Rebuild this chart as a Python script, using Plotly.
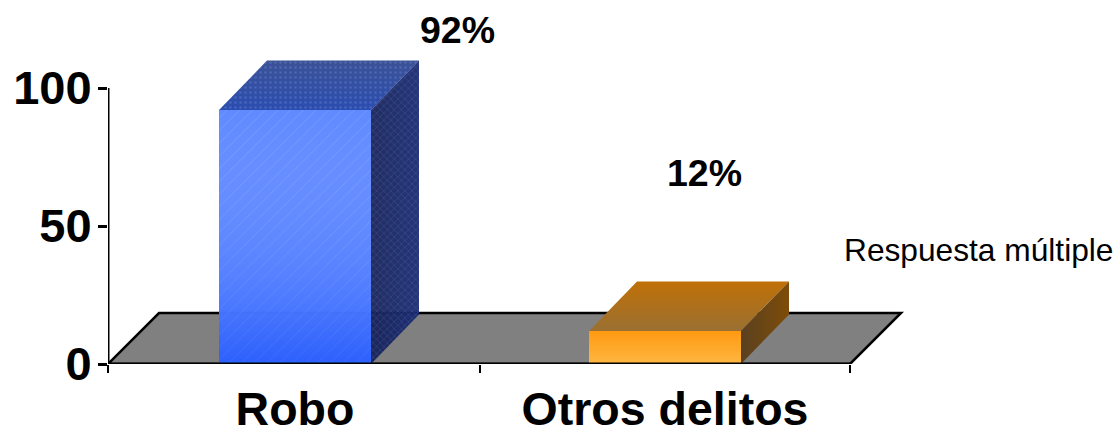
import plotly.graph_objects as go

categories = ["Robo", "Otros delitos"]
values = [92, 12]
value_labels = ["92%", "12%"]
y_ticks = [0, 50, 100]
note = "Respuesta múltiple"

FONT = "Liberation Sans, Arial, sans-serif"
W, H = 1119, 428
L, B = 108, 64
EXTRA = 10                        # spare page height below the picture, keeps tick-label boxes whole
PX_X, PX_Y = 370.0, 2.76          # pixels per category / per value unit
DX, DY = 48 / PX_X, 49.5 / PX_Y   # 3-D depth offset in data units
FX, FY = 51 / PX_X, 51 / PX_Y     # floor depth
BW = 152 / PX_X                   # bar width in category units
X0, X1 = -(295 - L) / PX_X, 1.5   # axis start and end

x_range = [X0, X0 + (W - L) / PX_X]
y_range = [0, (H - B) / PX_Y]

blue = dict(
    base="#4f7dff", pat="rgba(170,195,255,0.55)", opacity=0.97,
    front=[[0, "rgba(0,60,255,0.45)"], [1, "rgba(255,255,255,0.07)"]],
    top=[[0, "#2b4db0"], [1, "#3b5296"]],
    side=[[0, "rgba(22,34,90,0.95)"], [1, "rgba(24,42,115,0.95)"]],
    top_pat="rgba(150,175,235,0.45)", side_pat="rgba(175,190,230,0.40)",
)
orange = dict(
    base="#ffa526", pat=None, opacity=1,
    front=[[0, "rgba(255,185,70,0.9)"], [1, "rgba(255,152,14,0.9)"]],
    top=[[0, "#9a7033"], [1, "#c07006"]],
    side=[[0, "#5a4020"], [1, "#7e4c08"]],
    top_pat=None, side_pat=None,
)
styles = [blue, orange]

fig = go.Figure()


def face(xs, ys, scale, kind, pattern=None, shape="/", size=6):
    fig.add_trace(go.Scatter(
        x=xs, y=ys, mode="none", fill="toself", showlegend=False, hoverinfo="skip",
        fillgradient=dict(type=kind, colorscale=scale), cliponaxis=False))
    if pattern:
        fig.add_trace(go.Scatter(
            x=xs, y=ys, mode="none", fill="toself", showlegend=False, hoverinfo="skip",
            fillcolor="rgba(0,0,0,0)",
            fillpattern=dict(shape=shape, fgcolor=pattern, bgcolor="rgba(0,0,0,0)",
                             size=size, solidity=0.22),
            cliponaxis=False))


# real bars: front faces
for i, (v, s) in enumerate(zip(values, styles)):
    pat = dict(shape="/", fgcolor=s["pat"], bgcolor=s["base"], size=9, solidity=0.1) if s["pat"] else None
    fig.add_trace(go.Bar(
        x=[i], y=[v], width=BW, showlegend=False, hoverinfo="skip",
        opacity=s["opacity"],
        marker=dict(color=s["base"], line=dict(width=0), **({"pattern": pat} if pat else {}))))

# gradient over front, top and side faces, all derived from the values
for i, (v, s) in enumerate(zip(values, styles)):
    a, b = i - BW / 2, i + BW / 2
    face([a, b, b, a, a], [0, 0, v, v, 0], s["front"], "vertical")
    face([a, b, b + DX, a + DX, a], [v, v, v + DY, v + DY, v], s["top"], "vertical",
         s["top_pat"], ".", 5)
    face([b, b + DX, b + DX, b, b], [0, DY, v + DY, v, 0], s["side"], "horizontal",
         s["side_pat"], "x", 5)

# axis lines (only as long as the scale, so drawn from the axis limits)
fig.add_trace(go.Scatter(x=[X0, X0], y=[-8 / PX_Y, max(y_ticks)], mode="lines", cliponaxis=False,
                         line=dict(color="black", width=3), showlegend=False, hoverinfo="skip"))
fig.add_trace(go.Scatter(x=[X0, X1], y=[0, 0], mode="lines", cliponaxis=False,
                         line=dict(color="black", width=3), showlegend=False, hoverinfo="skip"))

annotations = [
    dict(x=0.438, y=121, text=value_labels[0]),
    dict(x=1.107, y=69.2, text=value_labels[1]),
]
annotations = [dict(a, xref="x", yref="y", showarrow=False,
                    font=dict(family=FONT, size=37.5, color="black", weight="bold")) for a in annotations]
annotations.append(dict(x=(978 - L) / (W - L), y=(H - B - 250) / (H - B), xref="paper", yref="paper",
                        xanchor="center", yanchor="middle", text=note, showarrow=False,
                        font=dict(family=FONT, size=31.7, color="black")))

fig.update_layout(
    width=W, height=H + EXTRA, margin=dict(l=L, r=0, t=0, b=B + EXTRA),
    paper_bgcolor="white", plot_bgcolor="white", showlegend=False,
    annotations=annotations,
    shapes=[dict(
        type="path", layer="below", xref="x", yref="y",
        path=f"M {X0},0 L {X0 + FX},{FY} L {X1 + FX},{FY} L {X1},0 Z",
        fillcolor="#808080", line=dict(color="black", width=2.5))],
    xaxis=dict(range=x_range, showgrid=False, zeroline=False, showline=False, automargin=False,
               tickmode="array", tickvals=[0, 1], ticktext=categories, ticks="",
               ticklabelstandoff=13,
               tickfont=dict(family=FONT, size=46.5, color="black", weight="bold"),
               minor=dict(tickmode="array", tickvals=[X0, 0.5, X1], ticks="outside",
                          ticklen=8, tickwidth=2, tickcolor="black", showgrid=False)),
    yaxis=dict(range=y_range, showgrid=False, zeroline=False, showline=False, automargin=False,
               tickmode="array", tickvals=y_ticks, ticks="outside", ticklen=9, tickwidth=3,
               tickcolor="black", ticklabelstandoff=-3,
               tickfont=dict(family=FONT, size=47, color="black", weight="bold")),
)
fig.write_html("out.html", config={"displayModeBar": False},
               post_script="document.body.style.margin='0';document.body.style.overflow='hidden';")
